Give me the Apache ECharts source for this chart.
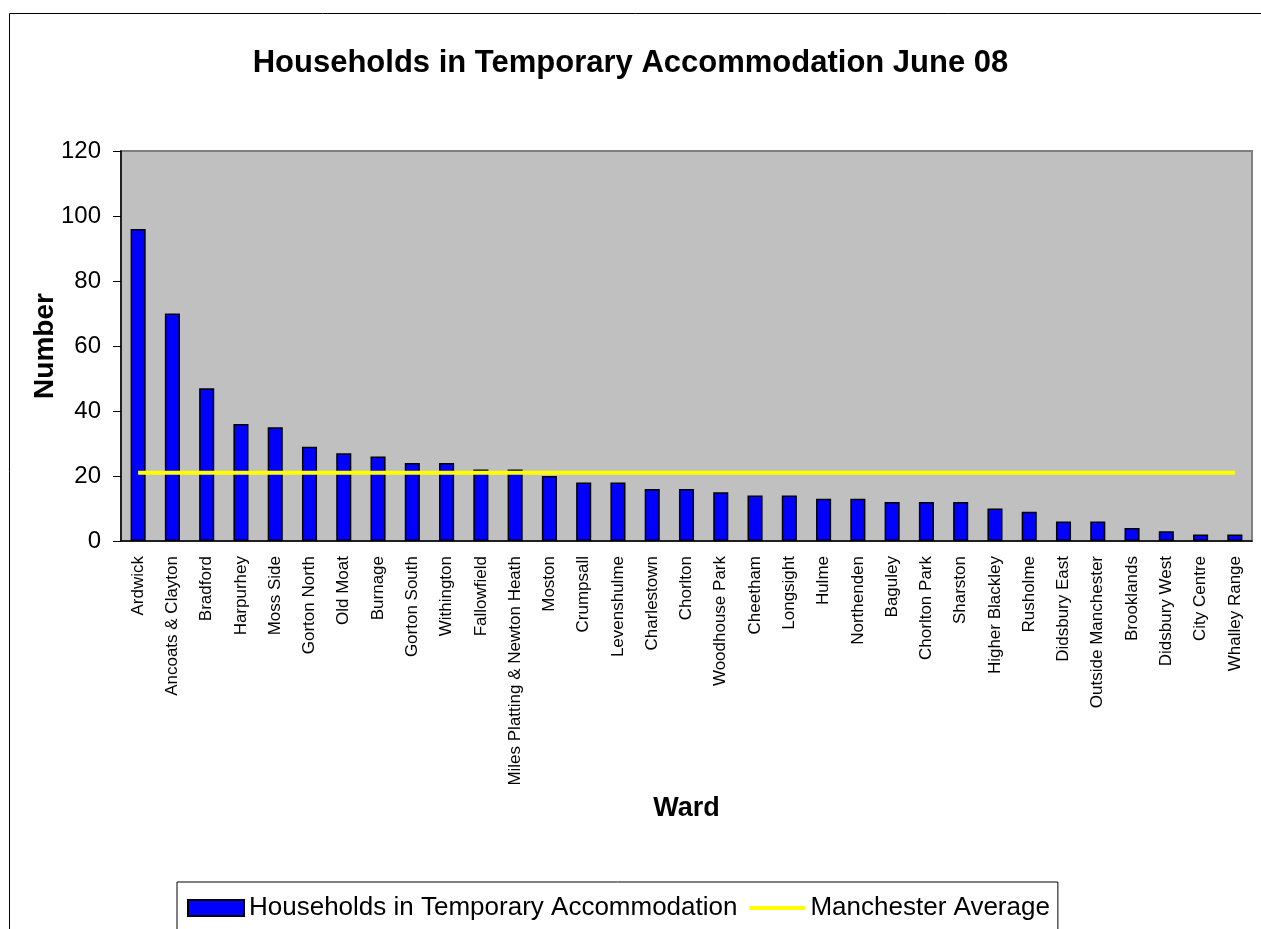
<!DOCTYPE html>
<html>
<head>
<meta charset="utf-8">
<title>Households in Temporary Accommodation June 08</title>
<script src="https://cdn.jsdelivr.net/npm/echarts@6/dist/echarts.min.js"></script>
<style>
  html, body { margin: 0; padding: 0; background: #fff; }
  #chart { width: 1261px; height: 929px; }
</style>
</head>
<body>
<div id="chart"></div>
<script>
const wards = ['Ardwick', 'Ancoats & Clayton', 'Bradford', 'Harpurhey', 'Moss Side', 'Gorton North',
  'Old Moat', 'Burnage', 'Gorton South', 'Withington', 'Fallowfield', 'Miles Platting & Newton Heath',
  'Moston', 'Crumpsall', 'Levenshulme', 'Charlestown', 'Chorlton', 'Woodhouse Park', 'Cheetham',
  'Longsight', 'Hulme', 'Northenden', 'Baguley', 'Chorlton Park', 'Sharston', 'Higher Blackley',
  'Rusholme', 'Didsbury East', 'Outside Manchester', 'Brooklands', 'Didsbury West', 'City Centre',
  'Whalley Range']
const households = [96, 70, 47, 36, 35, 29, 27, 26, 24, 24, 22, 22, 20, 18, 18, 16, 16, 15, 14, 14,
  13, 13, 12, 12, 12, 10, 9, 6, 6, 4, 3, 2, 2]
const average = [21, 21, 21, 21, 21, 21, 21, 21, 21, 21, 21, 21, 21, 21, 21, 21, 21, 21, 21, 21,
  21, 21, 21, 21, 21, 21, 21, 21, 21, 21, 21, 21, 21]
const yTicks = [0, 20, 40, 60, 80, 100, 120]

const font = 'Arial, "Liberation Sans", sans-serif'
const chart = echarts.init(document.getElementById('chart'))

const option = {
  animation: false,
  textStyle: { fontFamily: font, color: '#000' },
  title: {
    text: 'Households in Temporary Accommodation June 08',
    left: 'center',
    top: 43,
    textStyle: { fontFamily: font, fontSize: 31, fontWeight: 'bold', color: '#000' }
  },
  graphic: [
    {
      type: 'rect',
      z: -10,
      shape: { x: 9.5, y: 13.5, width: 1400, height: 1000 },
      style: { fill: 'none', stroke: '#000', lineWidth: 1 }
    }
  ],
  legend: {
    left: 177,
    top: 882,
    padding: [13, 8, 40, 10],
    itemGap: 10,
    itemWidth: 56,
    itemHeight: 16,
    borderColor: '#000',
    borderWidth: 1,
    textStyle: { fontFamily: font, fontSize: 26, color: '#000' },
    data: [
      { name: 'Households in Temporary Accommodation', icon: 'rect' },
      { name: 'Manchester Average', itemStyle: { opacity: 0 }, lineStyle: { width: 4 } }
    ]
  },
  grid: {
    left: 121,
    right: 9,
    top: 151,
    bottom: 388,
    show: true,
    backgroundColor: '#c0c0c0',
    borderColor: '#808080',
    borderWidth: 2
  },
  xAxis: [
    {
      type: 'category',
      data: wards,
      name: 'Ward',
      nameLocation: 'middle',
      nameGap: 254,
      nameMoveOverlap: false,
      nameTextStyle: { fontFamily: font, fontSize: 27, fontWeight: 'bold', color: '#000' },
      axisLine: { lineStyle: { color: '#000', width: 1.5 } },
      axisTick: { length: 6, lineStyle: { color: '#555' } },
      axisLabel: { interval: 0, rotate: 90, margin: 15, fontSize: 17, fontFamily: font, color: '#000' }
    },
    {
      // second copy only for the tick marks that poke up into the plot
      type: 'category',
      data: wards,
      position: 'bottom',
      axisLine: { show: false },
      axisTick: { inside: true, length: 6, lineStyle: { color: '#555' } },
      axisLabel: { show: false }
    }
  ],
  yAxis: {
    type: 'value',
    min: yTicks[0],
    max: yTicks[yTicks.length - 1],
    interval: 20,
    name: 'Number',
    nameLocation: 'middle',
    nameGap: 62,
    nameMoveOverlap: false,
    nameTextStyle: { fontFamily: font, fontSize: 28, fontWeight: 'bold', color: '#000' },
    axisLine: { show: true, lineStyle: { color: '#000', width: 1.5 } },
    axisTick: { show: true, length: 8, lineStyle: { color: '#000' } },
    axisLabel: { fontSize: 24, fontFamily: font, color: '#000', margin: 20 },
    splitLine: { show: false }
  },
  series: [
    {
      name: 'Households in Temporary Accommodation',
      type: 'bar',
      xAxisIndex: 0,
      barWidth: '44%',
      data: households,
      itemStyle: { color: '#0000ff', borderColor: '#000', borderWidth: 1.5 }
    },
    {
      name: 'Manchester Average',
      type: 'line',
      xAxisIndex: 0,
      data: average,
      symbol: 'none',
      showSymbol: false,
      itemStyle: { color: '#ffff00' },
      lineStyle: { color: '#ffff00', width: 4 },
      z: 3
    }
  ]
}

chart.setOption(option)
window.addEventListener('resize', () => chart.resize())
</script>
</body>
</html>
